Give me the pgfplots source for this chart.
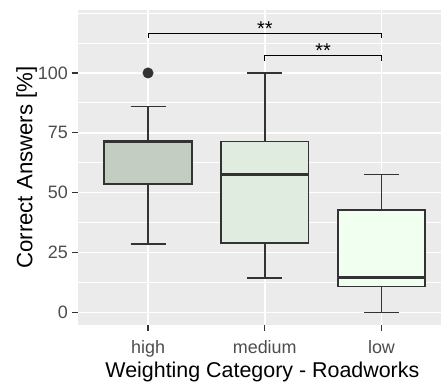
\documentclass[border=0pt]{standalone}
\usepackage{fontspec}
\setmainfont{Liberation Sans}
\usepackage{pgfplots}
\pgfplotsset{compat=1.18}
\usepgfplotslibrary{statistics}
\definecolor{panel}{HTML}{EBEBEB}
\definecolor{dk}{HTML}{333333}
\definecolor{tk}{HTML}{4D4D4D}
\definecolor{fhigh}{HTML}{C3CDC2}
\definecolor{fmed}{HTML}{DFECDF}
\definecolor{flow}{HTML}{F0FFF0}
\begin{document}
\begin{tikzpicture}
\path[use as bounding box] (0,0) rectangle (441bp,386bp);
\begin{axis}[
  at={(78bp,61bp)}, anchor=south west,
  scale only axis, width=363bp, height=315bp,
  xmin=0.4, xmax=3.51, ymin=-5.3, ymax=126.3,
  axis background/.style={fill=panel},
  axis line style={draw=none},
  xtick={1,2,3}, xticklabels={high,medium,low},
  ytick={0,25,50,75,100},
  minor ytick={12.5,37.5,62.5,87.5,112.5,125},
  grid=both,
  major grid style={white, line width=1.6bp},
  minor grid style={white, line width=0.8bp},
  minor tick length=0pt,
  tick pos=left, tick align=outside,
  major tick length=5.5bp,
  tick style={dk, line width=1.3bp},
  /pgf/number format/assume math mode=true,
  ticklabel style={font=\fontsize{18}{20}\selectfont, text=tk, inner sep=0pt},
  yticklabel style={anchor=east, xshift=-4.5bp},
  xticklabel style={anchor=base, yshift=-22.5bp},
  xlabel={Weighting Category - Roadworks},
  ylabel={Correct Answers [\%]},
  label style={inner sep=0pt},
  xlabel style={font=\fontsize{21.5}{24}\selectfont, at={(axis description cs:0.508,-0.168)}, anchor=base},
  ylabel style={font=\fontsize{22.3}{24}\selectfont, at={(axis description cs:-0.126,0.5)}, anchor=base},
  boxplot/draw direction=y,
  boxplot/box extend=0.75,
  boxplot/whisker extend=0.3,
  boxplot/every median/.style={line width=3bp},
]
\addplot[boxplot prepared={lower whisker=28.6, lower quartile=53.7, median=71.5,
    upper quartile=71.5, upper whisker=85.9, draw position=1},
  draw=dk, fill=fhigh, line width=1.6bp, mark=*, mark size=5.2bp,
  mark options={fill=dk, draw=dk, line width=0.5bp}] coordinates {(1,100)};
\addplot[boxplot prepared={lower whisker=14.4, lower quartile=28.9, median=57.7,
    upper quartile=71.3, upper whisker=100, draw position=2},
  draw=dk, fill=fmed, line width=1.6bp] coordinates {};
\addplot[boxplot prepared={lower whisker=0, lower quartile=10.8, median=14.7,
    upper quartile=42.8, upper whisker=57.6, draw position=3},
  draw=dk, fill=flow, line width=1.6bp] coordinates {};
\addplot[black, line width=1bp, mark=none] coordinates {(1,114.5) (1,116.6) (3,116.6) (3,114.5)};
\addplot[black, line width=1bp, mark=none] coordinates {(2,105.0) (2,107.1) (3,107.1) (3,105.0)};
\node[font=\fontsize{20}{24}\selectfont, anchor=base] at (axis cs:2,115.8) {**};
\node[font=\fontsize{20}{24}\selectfont, anchor=base] at (axis cs:2.5,106.3) {**};
\end{axis}
\end{tikzpicture}
\end{document}
